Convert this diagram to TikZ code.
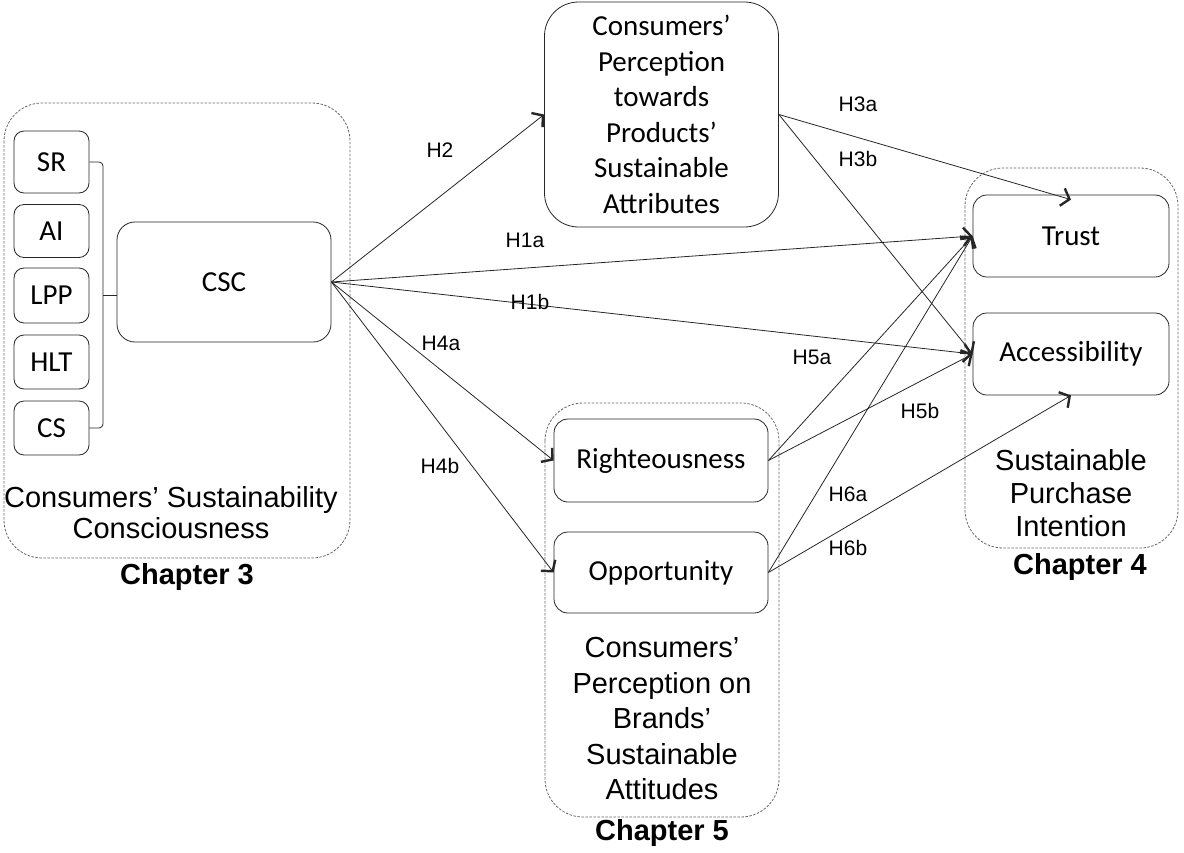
\documentclass[tikz,border=0pt]{standalone}
\usepackage{fontspec}
\setmainfont{Liberation Sans}
\newfontfamily\boxfont{Carlito}
\usetikzlibrary{arrows.meta}
\begin{document}
\begin{tikzpicture}[x=1pt,y=-1pt,
  line/.style={draw=black!85,line width=0.8pt},
  cbox/.style={line,rounded corners=#1,align=center,inner sep=0pt,
     font=\boxfont\fontsize{29}{35.5}\selectfont},
  cbox/.default=12pt,
  group/.style={draw=black!60,line width=0.8pt,dash pattern=on 2.5pt off 1.5pt,rounded corners=38pt},
  title/.style={align=center,inner sep=0pt,font=\fontsize{29}{#1}\selectfont},
  chap/.style={inner sep=0pt,font=\bfseries\fontsize{29}{34}\selectfont},
  hyp/.style={inner sep=0pt,font=\fontsize{21}{25}\selectfont},
  arr/.style={line,-{Straight Barb[length=7.5pt,width=18pt,line width=2.4pt]}}]
\useasboundingbox (0,0) rectangle (1184,852);

% dashed group frames
\draw[group] (4,103) rectangle (350,558);
\draw[group] (545,403) rectangle (779,817);
\draw[group] (965,168) rectangle (1178,548);

% dimensions of consumers' sustainability consciousness
\node[cbox=10pt,minimum width=75pt,minimum height=62pt] (sr)  at (51.5,162) {SR};
\node[cbox=10pt,minimum width=75pt,minimum height=53pt] (ai)  at (51.5,231) {AI};
\node[cbox=10pt,minimum width=75pt,minimum height=55pt] (lpp) at (51.5,295.5) {LPP};
\node[cbox=10pt,minimum width=75pt,minimum height=54pt] (hlt) at (51.5,362) {HLT};
\node[cbox=10pt,minimum width=75pt,minimum height=54pt] (cs)  at (51.5,428) {CS};
\node[cbox=18pt,minimum width=214pt,minimum height=120pt] (csc) at (224,282) {\raisebox{-2pt}{CSC}};

% bracket joining the dimensions to CSC
\coordinate (brk) at (103,295);
\draw[line,rounded corners=4pt] (sr.east) -- (sr.east -| brk) -- (cs.east -| brk) -- (cs.east);
\draw[line,rounded corners=3pt] (brk) -- (brk -| csc.west);

% product perception
\node[cbox=34pt,minimum width=234pt,minimum height=225pt] (prod) at (661.5,114.5)
  {Consumers’\\Perception\\towards\\Products’\\Sustainable\\Attributes};

% brand perception
\node[cbox=14pt,minimum width=214pt,minimum height=83pt] (right) at (661,460.5) {\raisebox{-2pt}{Righteousness}};
\node[cbox=14pt,minimum width=214pt,minimum height=81pt] (opp)   at (661,572.5) {\raisebox{-2pt}{Opportunity}};

% purchase intention
\node[cbox=14pt,minimum width=196pt,minimum height=82pt] (trust) at (1071,236) {\raisebox{-2pt}{Trust}};
\node[cbox=14pt,minimum width=196pt,minimum height=82pt] (acc)   at (1071,354) {\raisebox{-2pt}{Accessibility}};

% group titles
\node[title=31] (t3) at (171,512.5) {Consumers’ Sustainability\\Consciousness};
\node[chap] (c3) at (187,577) {Chapter 3};
\node[title=35.5] (t5) at (662,719) {Consumers’\\Perception on\\Brands’\\Sustainable\\Attitudes};
\node[chap] (c5) at (662,833) {Chapter 5};
\node[title=33] (t4) at (1071,493) {Sustainable\\Purchase\\Intention};
\node[chap] (c4) at (1080,567) {Chapter 4};

% hypotheses
\draw[arr] (csc.east) -- (prod.west);
\draw[arr] (csc.east) -- (trust.west);
\draw[arr] (csc.east) -- (acc.west);
\draw[arr] (csc.east) -- (right.west);
\draw[arr] (csc.east) -- (opp.west);
\draw[arr] (prod.east) -- ([yshift=-5pt]trust.north);
\draw[arr] (prod.east) -- (acc.west);
\draw[arr] (right.east) -- (trust.west);
\draw[arr] (right.east) -- (acc.west);
\draw[arr] (opp.east) -- (trust.west);
\draw[arr] (opp.east) -- (acc.south);

\node[hyp] (h2)  at (440,150) {H2};
\node[hyp] (h1a) at (525,240) {H1a};
\node[hyp] (h1b) at (530,302) {H1b};
\node[hyp] (h4a) at (441,343) {H4a};
\node[hyp] (h4b) at (440,466) {H4b};
\node[hyp] (h3a) at (858,104) {H3a};
\node[hyp] (h3b) at (858,159) {H3b};
\node[hyp] (h5a) at (812,357) {H5a};
\node[hyp] (h5b) at (920,411) {H5b};
\node[hyp] (h6a) at (848,494) {H6a};
\node[hyp] (h6b) at (848,548) {H6b};
\end{tikzpicture}
\end{document}
